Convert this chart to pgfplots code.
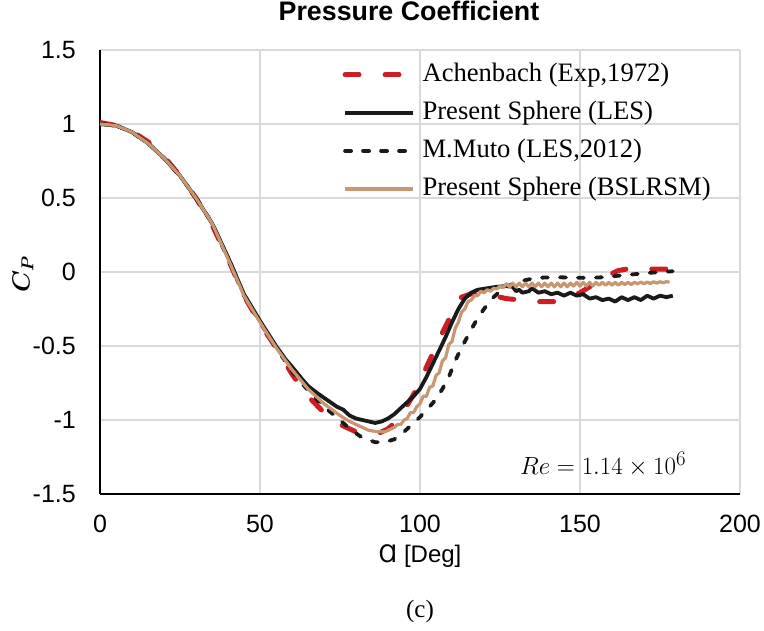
\documentclass[border=0pt]{standalone}
\usepackage{amsmath}
\usepackage{pgfplots}
\usepackage{pgfplotstable}
\pgfplotsset{compat=1.18}
\usepackage{fontspec}
\setmainfont{Liberation Sans}
\newfontfamily\serif{Liberation Serif}
\newfontfamily\dejavu{DejaVu Sans}
\definecolor{achred}{RGB}{204,30,36}
\definecolor{lesblack}{RGB}{26,26,26}
\definecolor{tanc}{RGB}{200,150,112}
\definecolor{gridgray}{RGB}{217,217,217}

\pgfplotstableread{
x y
0 1.01
5 0.99
10 0.95
15 0.88
20 0.78
25 0.65
30 0.50
35 0.32
40 0.09
45 -0.16
50 -0.35
55 -0.51
60 -0.69
65 -0.84
70 -0.95
75 -1.03
80 -1.08
84 -1.10
87 -1.09
90 -1.06
92 -1.02
94 -0.96
96 -0.90
99 -0.79
101 -0.69
104 -0.55
107 -0.41
110 -0.28
113 -0.17
117 -0.14
121 -0.15
127 -0.18
132 -0.19
137 -0.20
142 -0.20
146 -0.18
150 -0.14
153 -0.10
156 -0.06
159 -0.02
162 0.01
166 0.025
172 0.02
180 0.02
}\achenbach

\pgfplotstableread{
x y
0 1.0
5 0.99
10 0.945
15 0.87
20 0.77
25 0.65
30 0.50
35 0.33
40 0.10
45 -0.15
50 -0.33
55 -0.50
58 -0.59
60 -0.64
63 -0.72
65 -0.77
68 -0.82
70 -0.85
72 -0.88
74 -0.91
76 -0.93
78 -0.97
80 -0.99
82 -1.00
84 -1.01
86 -1.02
88 -1.01
90 -0.99
92 -0.96
94 -0.92
96 -0.88
98 -0.84
100 -0.79
102 -0.71
104 -0.62
106 -0.53
108 -0.44
110 -0.34
112 -0.25
114 -0.18
116 -0.14
118 -0.12
121 -0.11
124 -0.10
127 -0.095
129 -0.10
130 -0.13
131 -0.12
132 -0.14
134 -0.13
135 -0.11
137 -0.14
139 -0.13
141 -0.15
143 -0.14
145 -0.16
147 -0.14
149 -0.16
151 -0.15
153 -0.18
155 -0.17
157 -0.19
159 -0.18
161 -0.20
163 -0.17
165 -0.19
167 -0.17
169 -0.19
171 -0.16
173 -0.18
175 -0.16
177 -0.17
179 -0.16
}\les

\pgfplotstableread{
x y
0 1.0
5 0.99
10 0.945
15 0.87
20 0.77
25 0.65
30 0.50
35 0.33
40 0.09
45 -0.16
50 -0.34
55 -0.51
60 -0.67
65 -0.80
70 -0.91
75 -1.00
78 -1.06
82 -1.12
86 -1.15
89 -1.15
92 -1.13
95 -1.08
98 -1.02
100 -0.98
103 -0.91
105 -0.86
107 -0.79
109 -0.71
111 -0.60
113 -0.51
115 -0.43
117 -0.35
119 -0.28
121 -0.22
123 -0.17
125 -0.13
128 -0.09
132 -0.06
136 -0.04
142 -0.035
152 -0.04
158 -0.035
162 -0.025
167 -0.015
172 -0.005
179 0.005
}\muto

\pgfplotstableread{
x y
0 1.0
5 0.99
10 0.945
15 0.87
20 0.77
25 0.65
30 0.50
35 0.33
40 0.09
45 -0.16
50 -0.34
55 -0.51
60 -0.66
65 -0.79
70 -0.89
75 -0.97
78 -1.01
81 -1.04
84 -1.07
87 -1.08
89 -1.08
91 -1.06
92 -1.05
93 -1.03
94 -1.03
95 -1.00
96 -0.99
97 -0.95
98 -0.95
99 -0.91
100 -0.89
101 -0.84
102 -0.84
103 -0.78
104 -0.77
105 -0.70
106 -0.68
107 -0.60
108 -0.58
109 -0.49
110 -0.47
111 -0.38
112 -0.34
113 -0.27
114 -0.25
115 -0.20
116 -0.19
117 -0.16
118 -0.16
119 -0.13
120 -0.14
121 -0.12
122 -0.13
123 -0.11
124 -0.115
125 -0.095
126 -0.105
127 -0.08
128 -0.10
129 -0.075
130 -0.10
131 -0.075
132 -0.10
133 -0.075
134 -0.10
135 -0.075
136 -0.10
137 -0.075
138 -0.10
139 -0.075
140 -0.10
141 -0.075
142 -0.10
143 -0.075
144 -0.10
145 -0.075
146 -0.10
147 -0.075
148 -0.095
149 -0.07
150 -0.095
151 -0.07
152 -0.095
153 -0.07
154 -0.095
155 -0.07
156 -0.09
157 -0.07
158 -0.09
159 -0.07
160 -0.09
161 -0.07
162 -0.09
163 -0.07
164 -0.085
165 -0.07
166 -0.085
167 -0.07
168 -0.08
169 -0.068
170 -0.08
171 -0.068
172 -0.078
173 -0.066
174 -0.075
175 -0.066
176 -0.072
177 -0.066
178 -0.068
}\bslrsm

\begin{document}
\begin{tikzpicture}
\path[use as bounding box] (-100pt,-137pt) rectangle (664pt,494pt);
\begin{axis}[
  at={(0pt,0pt)}, anchor=south west,
  scale only axis, width=640pt, height=444pt,
  xmin=0, xmax=200, ymin=-1.5, ymax=1.5,
  xtick={0,50,100,150,200},
  xticklabels={0,50,100,150,200},
  ytick={-1.5,-1,-0.5,0,0.5,1,1.5},
  yticklabels={-1.5,-1,-0.5,0,0.5,1,1.5},
  tick label style={font=\fontsize{25}{29}\selectfont},
  xticklabel style={anchor=north, inner sep=0pt, yshift=-21pt},
  yticklabel style={anchor=east, inner sep=0pt, xshift=-24pt},
  major tick length=0pt,
  grid=major,
  major grid style={draw=gridgray, line width=1.4pt},
  axis x line*=bottom, axis y line*=left,
  axis line style={draw=black, line width=1.8pt, -},
  title={Pressure Coefficient},
  title style={font=\bfseries\fontsize{26.8}{30}\selectfont, at={(axis description cs:0.4828,1.0743)}, anchor=center, yshift=0pt, inner sep=0pt},
  xlabel={{\dejavu Ɑ} [Deg]},
  xlabel style={font=\fontsize{24}{28}\selectfont, at={(axis description cs:0.5,-0.1396)}, anchor=center, inner sep=0pt},
  ylabel={$\boldsymbol{C_P}$},
  ylabel style={font=\fontsize{25}{30}\selectfont, at={(axis description cs:-0.1203,0.495)}, anchor=center, inner sep=0pt},
  legend style={at={(axis description cs:0.379,0.972)}, anchor=north west, draw=none, fill=none,
    inner sep=0pt, outer sep=0pt, row sep=13pt,
    font=\serif\fontsize{26.6}{30}\selectfont,
    nodes={inner sep=0pt, text height=19pt, text depth=6pt},
    /tikz/every odd column/.append style={column sep=7pt}},
  legend cell align=left,
  legend image code/.code={\draw[#1] (0pt,0pt) -- (68pt,0pt);},
  no marks,
]
\addplot[draw=achred, line width=5pt, dash pattern=on 14pt off 26pt, line cap=round] table[x=x,y=y] {\achenbach};
\addlegendentry{Achenbach (Exp,1972)}
\addplot[draw=lesblack, line width=3.8pt, line join=round] table[x=x,y=y] {\les};
\addlegendentry{Present Sphere (LES)}
\addplot[draw=lesblack, line width=3.8pt, dash pattern=on 6pt off 12pt, line cap=round] table[x=x,y=y] {\muto};
\addlegendentry{M.Muto (LES,2012)}
\addplot[draw=tanc, line width=3.2pt, line join=round] table[x=x,y=y] {\bslrsm};
\addlegendentry{Present Sphere (BSLRSM)}
\node[font=\fontsize{31}{36}\selectfont, anchor=center, inner sep=0pt] at (axis description cs:0.786,0.0676) {$Re = 1.14 \times 10^{6}$};
\end{axis}
\node[font=\serif\fontsize{25}{30}\selectfont, anchor=center] at (320pt,-117pt) {(c)};
\end{tikzpicture}
\end{document}
